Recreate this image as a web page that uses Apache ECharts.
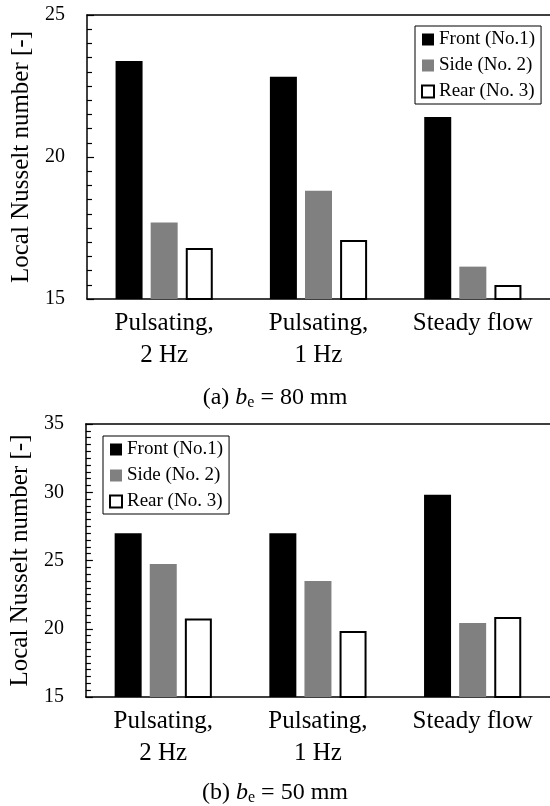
<!DOCTYPE html>
<html>
<head>
<meta charset="utf-8">
<script src="https://cdn.jsdelivr.net/npm/echarts@6/dist/echarts.min.js"></script>
<style>
  html, body { margin: 0; padding: 0; background: #fff; }
  #chart { width: 550px; height: 806px; }
</style>
</head>
<body>
<div id="chart"></div>
<script>
// categories and series
const categories = ['Pulsating,\n2 Hz', 'Pulsating,\n1 Hz', 'Steady flow']
const seriesNames = ['Front (No.1)', 'Side (No. 2)', 'Rear (No. 3)']

// (a) b_e = 80 mm
const frontA = [23.38, 22.83, 21.41]
const sideA = [17.69, 18.81, 16.14]
const rearA = [16.8, 17.08, 15.49]

// (b) b_e = 50 mm
const frontB = [27.0, 27.0, 29.82]
const sideB = [24.74, 23.5, 20.42]
const rearB = [20.76, 19.84, 20.86]

const font = 'Liberation Serif'
const axisColor = '#000'

const barStyles = [
  { color: '#000000' },
  { color: '#808080' },
  { color: '#ffffff', borderColor: '#000000', borderWidth: 2 }
]

function xAxes(gridIndex) {
  return [
    {
      gridIndex: gridIndex,
      type: 'category',
      data: categories,
      axisLine: { lineStyle: { color: axisColor, width: 1.5 } },
      axisTick: { show: false },
      axisLabel: { color: '#000', fontFamily: font, fontSize: 25, lineHeight: 32, margin: 8, interval: 0 }
    },
    {
      // top border line
      gridIndex: gridIndex,
      type: 'category',
      position: 'top',
      data: categories,
      axisLine: { lineStyle: { color: axisColor, width: 1.5 } },
      axisTick: { show: false },
      axisLabel: { show: false }
    }
  ]
}

function yAxis(gridIndex, min, max) {
  return {
    gridIndex: gridIndex,
    type: 'value',
    min: min,
    max: max,
    interval: 5,
    name: 'Local Nusselt number [-]',
    nameLocation: 'middle',
    nameGap: 52,
    nameTextStyle: { color: '#000', fontFamily: font, fontSize: 25 },
    axisLine: { show: true, lineStyle: { color: axisColor, width: 1.5 } },
    axisTick: { show: true, inside: true, length: 7, lineStyle: { color: axisColor, width: 1.2 } },
    // 0.5 steps
    minorTick: { show: true, splitNumber: 10, length: 5, lineStyle: { color: axisColor, width: 1.2 } },
    axisLabel: { color: '#000', fontFamily: font, fontSize: 20, margin: 22 },
    splitLine: { show: false }
  }
}

function barSeries(xIndex, yIndex, data) {
  return data.map((d, i) => ({
    name: seriesNames[i],
    type: 'bar',
    xAxisIndex: xIndex,
    yAxisIndex: yIndex,
    data: d,
    barWidth: 27,
    barGap: '30%',
    itemStyle: barStyles[i],
    emphasis: { disabled: true },
    animation: false
  }))
}

const legendBase = {
  orient: 'vertical',
  data: seriesNames,
  icon: 'rect',
  itemWidth: 12,
  itemHeight: 12,
  itemGap: 7,
  padding: [4, 6, 3, 6],
  borderColor: '#000',
  borderWidth: 1,
  textStyle: { color: '#000', fontFamily: font, fontSize: 19 },
  selectedMode: false
}

function caption(label, value, top) {
  return {
    type: 'text',
    left: 'center',
    top: top,
    style: {
      text: '{n|' + label + ' }{i|b}{s|e}{n| = ' + value + ' mm}',
      rich: {
        n: { fontFamily: font, fontSize: 24, fill: '#000' },
        i: { fontFamily: font, fontSize: 24, fontStyle: 'italic', fill: '#000' },
        s: { fontFamily: font, fontSize: 16, fill: '#000', padding: [10, 0, 0, 0] }
      }
    }
  }
}

const chart = echarts.init(document.getElementById('chart'), null, { renderer: 'canvas' })
chart.setOption({
  animation: false,
  backgroundColor: '#fff',
  grid: [
    { left: 87, right: 0, top: 15, height: 284 },
    { left: 84, right: 0, top: 424, height: 273 }
  ],
  xAxis: [...xAxes(0), ...xAxes(1)],
  yAxis: [yAxis(0, 15, 25), yAxis(1, 15, 35)],
  legend: [
    Object.assign({}, legendBase, { left: 415, top: 26 }),
    Object.assign({}, legendBase, { left: 103, top: 436 })
  ],
  series: [
    ...barSeries(0, 0, [frontA, sideA, rearA]),
    ...barSeries(2, 1, [frontB, sideB, rearB])
  ],
  graphic: [
    caption('(a)', 80, 386),
    caption('(b)', 50, 781)
  ]
})
</script>
</body>
</html>
